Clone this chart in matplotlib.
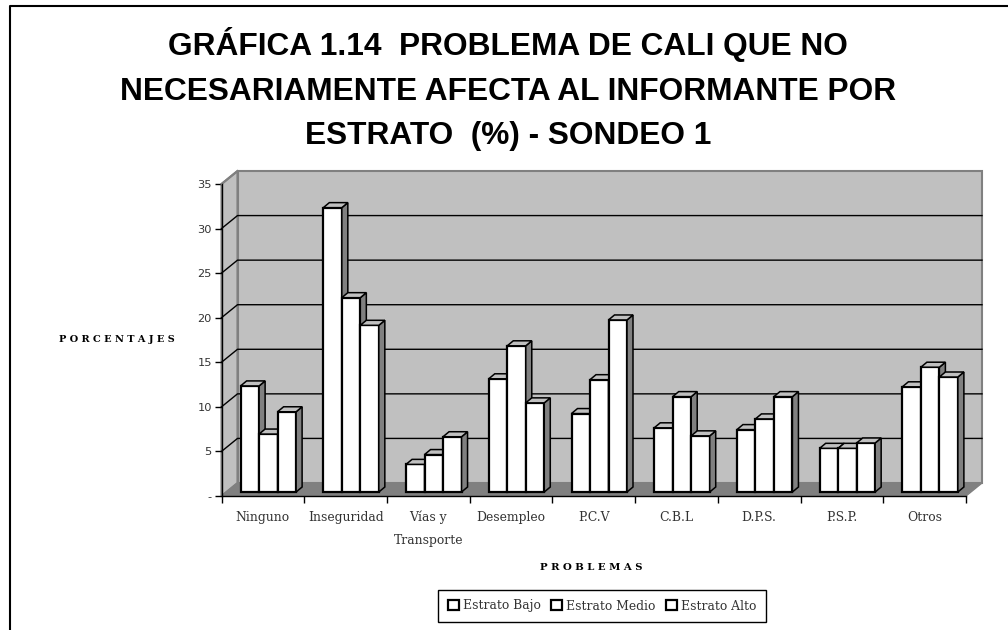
#!/usr/bin/env python3
import matplotlib
matplotlib.use('Agg')
import matplotlib.pyplot as plt
from matplotlib.patches import Polygon

categories = ['Ninguno', 'Inseguridad', 'Vías y\nTransporte', 'Desempleo', 'P.C.V',
              'C.B.L', 'D.P.S.', 'P.S.P.', 'Otros']
estrato_bajo = [11.9, 31.9, 3.1, 12.7, 8.8, 7.2, 7.0, 4.9, 11.8]
estrato_medio = [6.5, 21.8, 4.2, 16.4, 12.6, 10.7, 8.2, 4.9, 14.0]
estrato_alto = [9.0, 18.7, 6.2, 10.0, 19.3, 6.3, 10.7, 5.5, 12.9]
series_names = ['Estrato Bajo', 'Estrato Medio', 'Estrato Alto']
y_ticks = [0, 5, 10, 15, 20, 25, 30, 35]
y_labels = ['-', '5', '10', '15', '20', '25', '30', '35']

W, H = 1008, 630
fig = plt.figure(figsize=(W / 100, H / 100), dpi=100, facecolor='white')
ax = fig.add_axes([221.5 / W, 1 - 496 / H, 744.5 / W, 312 / H])
ax.set_xlim(0, 9)
ax.set_ylim(0, 35)
ax.patch.set_visible(False)
for s in ax.spines.values():
	s.set_visible(False)

# pixels to data units, for the fake depth
ux = 9 / 744.5
uy = 35 / 312.
dx, dy = 16 * ux, 13 * uy

# walls and floor
ax.add_patch(Polygon([(0, 0), (dx, dy), (dx, 35 + dy), (0, 35)], fc='#c0c0c0', ec='#808080', lw=1.5, zorder=1, clip_on=False))
ax.add_patch(Polygon([(dx, dy), (9 + dx, dy), (9 + dx, 35 + dy), (dx, 35 + dy)], fc='#c0c0c0', ec='#808080', lw=1.5, zorder=1, clip_on=False))
ax.add_patch(Polygon([(0, 0), (9, 0), (9 + dx, dy), (dx, dy)], fc='#808080', ec='#808080', lw=1, zorder=1.5, clip_on=False))

for t in y_ticks[1:-1]:
	ax.plot([0, dx, 9 + dx], [t, t + dy, t + dy], color='black', lw=1, zorder=2, clip_on=False)
ax.plot([0, dx], [35, 35 + dy], color='#808080', lw=1.5, zorder=2, clip_on=False)

# bars
bar_w = 18.5 * ux
front_x, front_y = 5.5 * ux, 4 * uy
side_x, side_y = 6 * ux, 5 * uy
zo = 3
containers = []
for j, vals in enumerate([estrato_bajo, estrato_medio, estrato_alto]):
	xs = [i + 0.5 + front_x + (j - 1) * bar_w for i in range(len(categories))]
	c = ax.bar(xs, vals, width=bar_w, bottom=front_y, color='white', edgecolor='black', lw=1.6, zorder=zo + j, label=series_names[j], clip_on=False)
	containers.append(c)
	for x, v in zip(xs, vals):
		l, r, t = x - bar_w / 2, x + bar_w / 2, v + front_y
		ax.add_patch(Polygon([(r, front_y), (r + side_x, front_y + side_y), (r + side_x, t + side_y), (r, t)], fc='#808080', ec='black', lw=1.1, zorder=zo + j, clip_on=False))
		ax.add_patch(Polygon([(l, t), (r, t), (r + side_x, t + side_y), (l + side_x, t + side_y)], fc='#c0c0c0', ec='black', lw=1.1, zorder=zo + j, clip_on=False))

# axes
ax.plot([0, 0], [0, 35], color='black', lw=1, zorder=2.5, clip_on=False)
ax.plot([0, 9], [0, 0], color='black', lw=1, zorder=2.5, clip_on=False)
ax.set_yticks(y_ticks)
ax.set_yticklabels(y_labels, family='DejaVu Sans', fontsize=8.2, color='#333333')
ax.set_xticks(range(10))
ax.set_xticklabels([])
ax.tick_params(axis='y', length=5, width=1, pad=2)
ax.tick_params(axis='x', length=5, width=1)
for i, name in enumerate(categories):
	ax.annotate(name, (i + 0.5, 0), xytext=(0, -10.5), textcoords='offset points', ha='center', va='top',
		family='DejaVu Serif', fontsize=8.9, color='#333333', linespacing=1.95, annotation_clip=False)

fig.text(59 / W, 1 - 339 / H, 'P O R C E N T A J E S', family='DejaVu Serif', weight='bold', fontsize=7.0, ha='left', va='center')
fig.text(591 / W, 1 - 567 / H, 'P R O B L E M A S', family='DejaVu Serif', weight='bold', fontsize=7.3, ha='center', va='center')

fig.text(508 / W, 1 - 89 / H, 'GRÁFICA 1.14  PROBLEMA DE CALI QUE NO\nNECESARIAMENTE AFECTA AL INFORMANTE POR\nESTRATO  (%) - SONDEO 1',
	family='Liberation Sans', weight='bold', fontsize=22.8, ha='center', va='center', linespacing=1.62)

# outer frame, open at the bottom and cut at the right
fig.add_artist(plt.Line2D([9.5 / W, 9.5 / W, 1], [0, 1 - 6.3 / H, 1 - 6.3 / H], color='black', lw=1.5))

leg = ax.legend(handles=[c[0] for c in containers], labels=series_names, ncol=3, loc='center', bbox_to_anchor=(602 / W, 1 - 606 / H),
	bbox_transform=fig.transFigure, frameon=True, fancybox=False, edgecolor='black', framealpha=1,
	prop={'family': 'DejaVu Serif', 'size': 8.9}, handlelength=0.9, handleheight=0.9, handletextpad=0.35, columnspacing=0.8, borderpad=0.8, borderaxespad=0)
leg.get_frame().set_linewidth(1)
for t in leg.get_texts():
	t.set_color('#333333')

fig.savefig('out.png', dpi=100)
